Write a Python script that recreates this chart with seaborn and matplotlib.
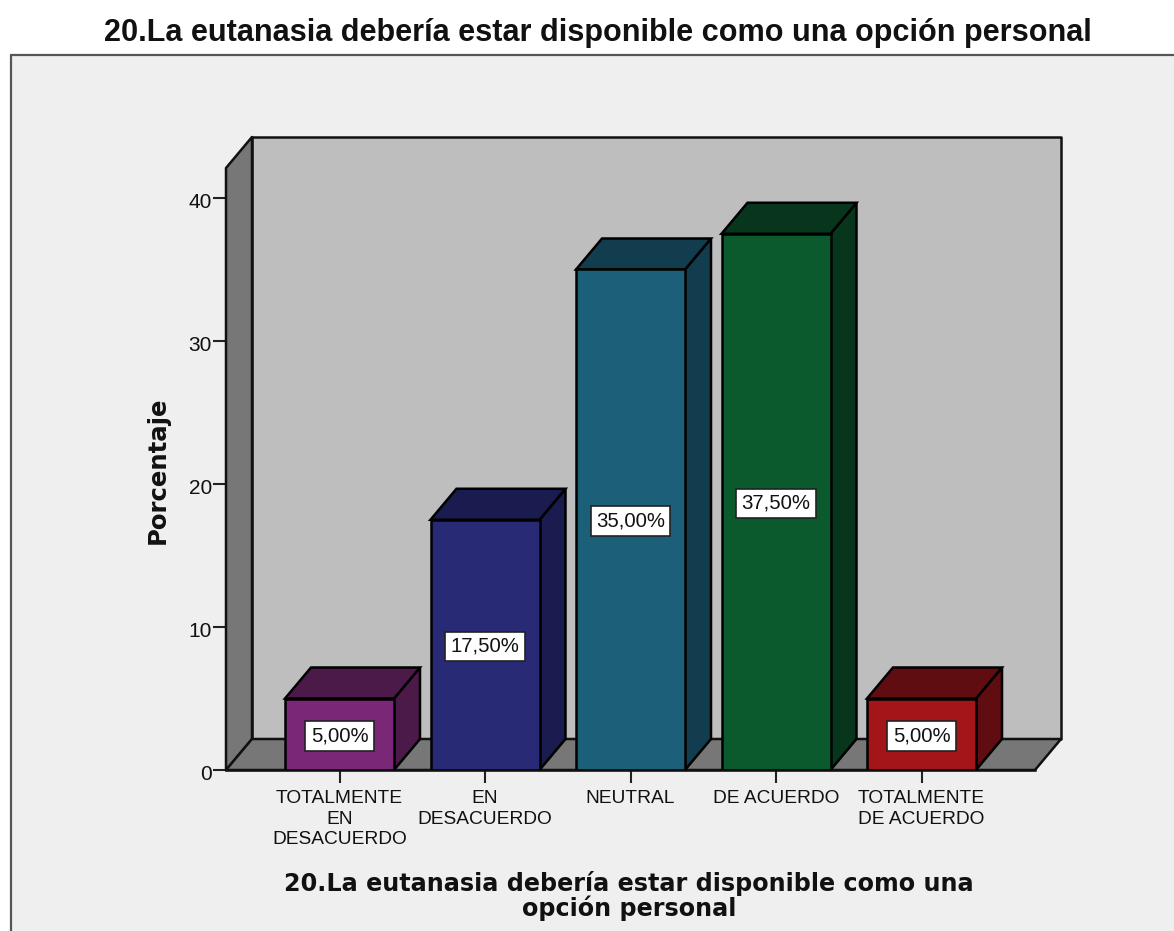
import seaborn as sns
import pandas as pd
import matplotlib.pyplot as plt
from matplotlib.patches import Polygon, Rectangle
from matplotlib.transforms import ScaledTranslation

W, H = 1174, 931

##############################################
categories = ["TOTALMENTE\nEN\nDESACUERDO", "EN\nDESACUERDO", "NEUTRAL", "DE ACUERDO", "TOTALMENTE\nDE ACUERDO"]
percent = [5.0, 17.5, 35.0, 37.5, 5.0]
value_labels = ["5,00%", "17,50%", "35,00%", "37,50%", "5,00%"]
front_colors = ["#7B2777", "#292A75", "#1B5F78", "#0B5A2E", "#A31519"]
side_colors = ["#4C1A48", "#1A1B4E", "#123D4E", "#07361C", "#5F0D10"]
y_ticks = [0, 10, 20, 30, 40]
chart_title = "20.La eutanasia debería estar disponible como una opción personal"
x_title = "20.La eutanasia debería estar disponible como una\nopción personal"
y_title = "Porcentaje"

sns.set_theme(style="white")
plt.rcParams["font.family"] = ["Liberation Sans", "DejaVu Sans"]

fig = plt.figure(figsize=(W / 100, H / 100), dpi=100, facecolor="white")


def px_box(left, top, right, bottom):
    """Figure rectangle from pixel coordinates of the image"""
    return [left / W, 1 - bottom / H, (right - left) / W, (bottom - top) / H]


# outer light panel with border on the top and left
fig.add_artist(Rectangle((10.5 / W, -0.01), 1.1, 1.01 - 55.5 / H, transform=fig.transFigure,
                         facecolor="#EFEFEF", edgecolor="#555555", linewidth=1.6, zorder=-1))

fig.text(598 / W, 1 - 33.5 / H, chart_title, ha="center", va="center", fontsize=22.1,
         fontweight="bold", color="#111111")

# axes = front plane of the 3D box
ax = fig.add_axes(px_box(226, 168, 1035, 770))
ax.patch.set_alpha(0)

df = pd.DataFrame({"categoria": categories, "porcentaje": percent})
sns.barplot(data=df, x="categoria", y="porcentaje", hue="categoria", palette=front_colors,
            legend=False, width=109 / 145.5, saturation=1, edgecolor="black", linewidth=1.8,
            ax=ax, zorder=5)

x_per_px = 1 / 145.5
y_per_px = 1 / 14.3
ax.set_xlim(-113.5 * x_per_px, 695.5 * x_per_px)
ax.set_ylim(0, 602 * y_per_px)

# depth of the box, in data units
dx = 26 * x_per_px
dy = 31 * y_per_px
x0, x1 = ax.get_xlim()
y0, y1 = ax.get_ylim()
wall = dict(edgecolor="#111111", linewidth=1.8, clip_on=False, joinstyle="round")

ax.add_patch(Polygon([(x0 + dx, y0 + dy), (x1 + dx, y0 + dy), (x1 + dx, y1 + dy), (x0 + dx, y1 + dy)],
                     facecolor="#BEBEBE", zorder=1, **wall))
ax.add_patch(Polygon([(x0, y0), (x0 + dx, y0 + dy), (x0 + dx, y1 + dy), (x0, y1)],
                     facecolor="#777777", zorder=1, **wall))
ax.add_patch(Polygon([(x0, y0), (x1, y0), (x1 + dx, y0 + dy), (x0 + dx, y0 + dy)],
                     facecolor="#777777", zorder=1, **wall))

# sides, tops and labels of the bars
for bar, side, label in zip(ax.patches[:len(percent)], side_colors, value_labels):
    left, right = bar.get_x(), bar.get_x() + bar.get_width()
    top = bar.get_height()
    edge = dict(facecolor=side, edgecolor="black", linewidth=1.8, clip_on=False, zorder=4)
    ax.add_patch(Polygon([(right, 0), (right + dx, dy), (right + dx, top + dy), (right, top)], **edge))
    ax.add_patch(Polygon([(left, top), (right, top), (right + dx, top + dy), (left + dx, top + dy)], **edge))
    ax.annotate(label, ((left + right) / 2, top / 2), xytext=(0, -1.1), textcoords="offset points",
                ha="center", va="center", fontsize=14.7, color="#111111", zorder=7,
                bbox=dict(boxstyle="square,pad=0.26", facecolor="white", edgecolor="#222222", linewidth=1.2))

sns.despine(ax=ax, top=True, right=True, left=False, bottom=False)
ax.spines["left"].set_visible(False)
ax.spines["bottom"].set_linewidth(1.8)
ax.spines["bottom"].set_color("#111111")
ax.spines["bottom"].set_zorder(3)

ax.set_yticks(y_ticks)
ax.set_yticklabels([str(t) for t in y_ticks])
ax.tick_params(axis="y", length=9.5, width=1.5, color="#222222", labelsize=15, labelcolor="#111111",
               pad=0.5, left=True)
ax.tick_params(axis="x", length=9.5, width=1.5, color="#222222", labelsize=13.8, labelcolor="#111111",
               pad=4.9, bottom=True)
for tick in ax.get_xticklabels():
    tick.set_linespacing(1.28)
# y labels sit a little under their ticks in the original
for tick in ax.get_yticklabels():
    tick.set_transform(tick.get_transform() + ScaledTranslation(0, -3 / 100, fig.dpi_scale_trans))

ax.set_xlabel("")
ax.set_ylabel("")
fig.text(158 / W, 1 - 470 / H, y_title, rotation=90, ha="center", va="center", fontsize=17.6,
         fontweight="bold", family="DejaVu Sans", color="#111111")
fig.text(629 / W, 1 - 896 / H, x_title, ha="center", va="center", fontsize=17.2, fontweight="bold",
         family="DejaVu Sans", color="#111111", linespacing=1.0)

plt.savefig("out.png", dpi=100, facecolor="white")
plt.close()
